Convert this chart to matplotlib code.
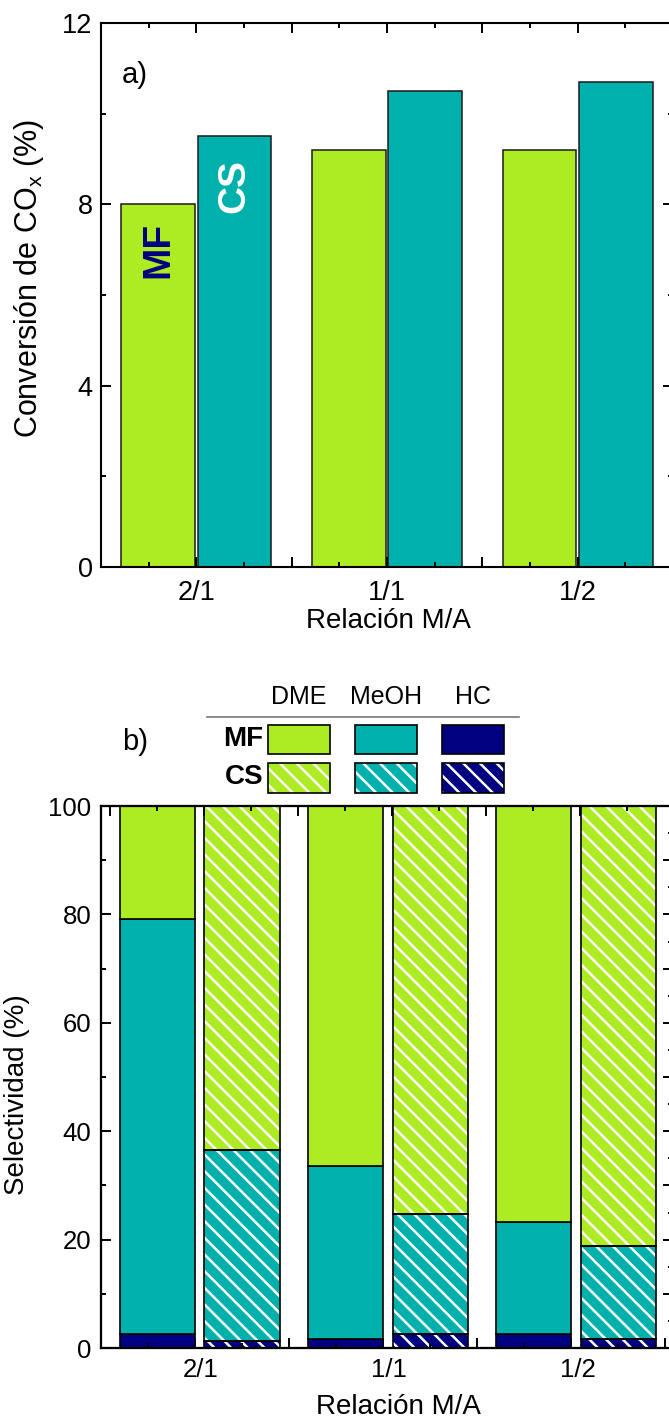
import matplotlib
matplotlib.use("Agg")
import matplotlib.pyplot as plt
import numpy as np
from matplotlib.patches import Rectangle
from matplotlib.lines import Line2D
from matplotlib.ticker import MultipleLocator, FixedLocator, FixedFormatter
from matplotlib.transforms import ScaledTranslation

plt.rcParams["font.family"] = ["Liberation Sans", "DejaVu Sans"]
plt.rcParams["mathtext.fontset"] = "custom"
plt.rcParams["mathtext.rm"] = "Liberation Sans"
plt.rcParams["mathtext.it"] = "Liberation Sans:italic"
plt.rcParams["hatch.linewidth"] = 1.8

# ---- data ----
ratios = ["2/1", "1/1", "1/2"]

# CO_x conversion (%)
conv_mf = [8.0, 9.2, 9.2]
conv_cs = [9.5, 10.5, 10.7]

# selectivity (%) stacked segments: HC (bottom), MeOH, DME (top)
sel_mf_hc = [2.5, 1.7, 2.5]
sel_mf_meoh = [76.7, 31.8, 20.7]
sel_mf_dme = [20.8, 66.5, 76.8]
sel_cs_hc = [1.2, 2.6, 1.7]
sel_cs_meoh = [35.3, 22.1, 17.2]
sel_cs_dme = [63.5, 75.3, 81.1]

products = ["DME", "MeOH", "HC"]
catalysts = ["MF", "CS"]

LIME = "#ADEB23"
TEAL = "#00B0AD"
NAVY = "#000080"
HATCH = "\\\\"

W, H = 669, 1424
fig = plt.figure(figsize=(W / 100, H / 100), dpi=100)


def px_axes(x0, y0, x1, y1):
    return fig.add_axes([x0 / W, 1 - y1 / H, (x1 - x0) / W, (y1 - y0) / H])


def style_axes(ax, size):
    for sp in ax.spines.values():
        sp.set_linewidth(1.5)
    ax.tick_params(which="both", direction="in", width=1.4, labelsize=size)
    ax.tick_params(which="major", length=7.2)
    ax.tick_params(which="minor", length=3.6)


x = np.arange(1, len(ratios) + 1)
xt_pos = [0.5, 1.0, 1.5, 2.0, 2.5, 3.0, 3.5]
xt_lab = ["", ratios[0], "", ratios[1], "", ratios[2], ""]

# ---- panel a: conversion ----
ax1 = px_axes(101, 23, 673, 567)
ax1.bar(x - 0.2, conv_mf, 0.385, color=LIME, edgecolor="#1a1a1a", linewidth=1.1, zorder=1)
ax1.bar(x + 0.2, conv_cs, 0.385, color=TEAL, edgecolor="#1a1a1a", linewidth=1.1, zorder=1)
ax1.set_xlim(0.5, 3.5)
ax1.set_ylim(0, 12)
ax1.xaxis.set_major_locator(FixedLocator(xt_pos))
ax1.xaxis.set_major_formatter(FixedFormatter(xt_lab))
ax1.xaxis.set_minor_locator(MultipleLocator(0.25))
ax1.yaxis.set_major_locator(MultipleLocator(4))
ax1.yaxis.set_minor_locator(MultipleLocator(2))
style_axes(ax1, 19.5)
ax1.tick_params(which="both", top=True, right=True)
ax1.tick_params(axis="x", pad=9)
ax1.tick_params(axis="y", pad=6)
ax1.set_xlabel("Relación M/A", fontsize=20)
ax1.xaxis.set_label_coords(0.502, -0.1)
ax1.xaxis.label.set_va("center")
ax1.set_ylabel("Conversión de CO$_\\mathregular{x}$ (%)", fontsize=22)
ax1.yaxis.set_label_coords(-0.125, 0.53)
ax1.yaxis.label.set_va("center")
ax1.text(0.037, 0.905, "a)", transform=ax1.transAxes, fontsize=21, ha="left", va="center")
ax1.text(1 - 0.2, 7.0, "MF", rotation=90, color=NAVY, fontsize=28, fontweight="bold",
         ha="center", va="center")
ax1.text(1 + 0.2, 8.4, "CS", rotation=90, color="white", fontsize=28, fontweight="bold",
         ha="center", va="center")

# ---- panel b: selectivity ----
ax2 = px_axes(101, 806, 673, 1348)
xm = x - 0.2
xc = x + 0.25
bw = 0.40

mf_segments = [(sel_mf_hc, NAVY), (sel_mf_meoh, TEAL), (sel_mf_dme, LIME)]
cs_segments = [(sel_cs_hc, NAVY), (sel_cs_meoh, TEAL), (sel_cs_dme, LIME)]

base = np.zeros(len(ratios))
for vals, col in mf_segments:
    ax2.bar(xm, vals, bw, bottom=base, color=col, edgecolor="black", linewidth=1.2, zorder=1)
    base = base + np.array(vals)

base = np.zeros(len(ratios))
for vals, col in cs_segments:
    ax2.bar(xc, vals, bw, bottom=base, facecolor=col, edgecolor="white", hatch=HATCH,
            linewidth=0, zorder=1)
    ax2.bar(xc, vals, bw, bottom=base, fill=False, edgecolor="black", linewidth=1.2, zorder=1.1)
    base = base + np.array(vals)

ax2.set_xlim(0.5, 3.54)
ax2.set_ylim(0, 100)
ax2.xaxis.set_major_locator(FixedLocator(xt_pos))
ax2.xaxis.set_major_formatter(FixedFormatter(xt_lab))
ax2.xaxis.set_minor_locator(MultipleLocator(0.25))
ax2.yaxis.set_major_locator(MultipleLocator(20))
ax2.yaxis.set_minor_locator(MultipleLocator(10))
style_axes(ax2, 18.5)
ax2.tick_params(axis="x", pad=7)
ax2.tick_params(axis="y", pad=7)
shift = ScaledTranslation(6 / 100, 0, fig.dpi_scale_trans)
for lab in ax2.get_xticklabels():
    lab.set_transform(lab.get_transform() + shift)
ax2.set_xlabel("Relación M/A", fontsize=20)
ax2.xaxis.set_label_coords(0.52, -0.109)
ax2.xaxis.label.set_va("center")
ax2.set_ylabel("Selectividad (%)", fontsize=20)
ax2.yaxis.set_label_coords(-0.147, 0.467)
ax2.yaxis.label.set_va("center")

# right-hand and top tick scales of panel b
ax2r = ax2.twinx()
ax2r.set_ylim(0, 100)
ax2r.yaxis.set_major_locator(MultipleLocator(10))
ax2r.yaxis.set_minor_locator(MultipleLocator(5))
style_axes(ax2r, 18)
ax2r.tick_params(axis="y", labelright=False)

ax2t = ax2.twiny()
ax2t.set_xlim(0.5 - 0.048, 3.54 - 0.048)
ax2t.xaxis.set_major_locator(MultipleLocator(0.5))
ax2t.xaxis.set_minor_locator(MultipleLocator(0.25))
style_axes(ax2t, 18)
ax2t.tick_params(axis="x", labeltop=False)
ax2.tick_params(which="both", top=False, right=False)

# ---- legend for panel b (figure pixel coordinates) ----
lg = fig.add_axes([0, 0, 1, 1])
lg.set_xlim(0, W)
lg.set_ylim(H, 0)
lg.axis("off")
lg.patch.set_visible(False)

col_x = [268, 355, 442]
pw = 62
rows_y = [(725, 754), (763, 793)]
prod_colors = [LIME, TEAL, NAVY]

for name, cx in zip(products, col_x):
    lg.text(cx + pw / 2, 697, name, fontsize=18, ha="center", va="center")
lg.add_line(Line2D([207, 519], [717, 717], color="#777777", linewidth=1.2))

for r, (cat, (y0, y1)) in enumerate(zip(catalysts, rows_y)):
    lg.text(263, (y0 + y1) / 2 - 1, cat, fontsize=20, fontweight="bold", ha="right", va="center")
    for cx, col in zip(col_x, prod_colors):
        if r == 0:
            lg.add_patch(Rectangle((cx, y0), pw, y1 - y0, facecolor=col, edgecolor="black",
                                   linewidth=1.2))
        else:
            lg.add_patch(Rectangle((cx, y0), pw, y1 - y0, facecolor=col, edgecolor="white",
                                   hatch=HATCH, linewidth=0))
            lg.add_patch(Rectangle((cx, y0), pw, y1 - y0, fill=False, edgecolor="black",
                                   linewidth=1.2))

lg.text(122, 742, "b)", fontsize=21, ha="left", va="center")

fig.savefig("out.png", dpi=100)
